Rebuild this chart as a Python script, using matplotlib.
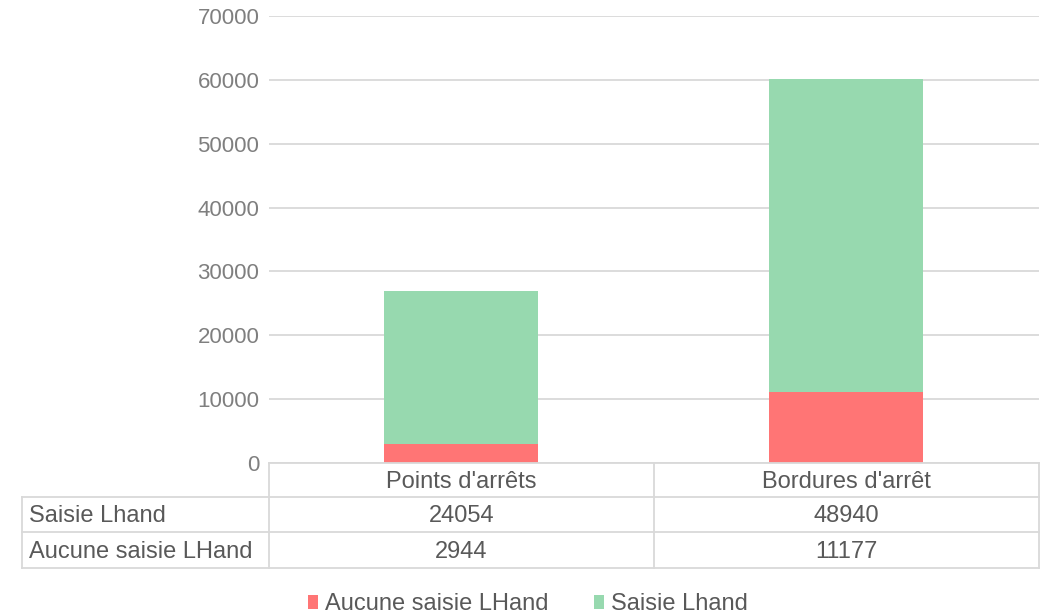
import matplotlib
matplotlib.use("Agg")
import matplotlib.pyplot as plt
from matplotlib.patches import Patch
from matplotlib.lines import Line2D

categories = ["Points d'arrêts", "Bordures d'arrêt"]
series_names = ["Aucune saisie LHand", "Saisie Lhand"]
aucune = [2944, 11177]
saisie = [24054, 48940]
table_rows = ["Saisie Lhand", "Aucune saisie LHand"]
yticks = [0, 10000, 20000, 30000, 40000, 50000, 60000, 70000]

RED = "#FF7575"
GREEN = "#97D9AF"
GRID = "#D9D9D9"
TXT = "#7F7F7F"
TXT2 = "#595959"
FS = 17

plt.rcParams['font.family'] = ['Liberation Sans', 'DejaVu Sans']

W, H = 1046, 616
fig = plt.figure(figsize=(W / 100, H / 100), dpi=100)

def fx(px):
    return px / W

def fy(py):
    return 1 - py / H

ax_l, ax_r, ax_t, ax_b = 269, 1039, 16, 463
ax = fig.add_axes([fx(ax_l), fy(ax_b), fx(ax_r) - fx(ax_l), fy(ax_t) - fy(ax_b)])

x = list(range(len(categories)))
ax.bar(x, aucune, width=0.4, color=RED, zorder=3)
ax.bar(x, saisie, width=0.4, bottom=aucune, color=GREEN, zorder=3)
ax.set_xlim(-0.5, len(categories) - 0.5)
ax.set_ylim(0, 70000)
ax.set_yticks(yticks)
ax.set_yticklabels([str(v) for v in yticks])
ax.tick_params(axis='y', length=0, pad=7, labelsize=16, labelcolor=TXT)
ax.set_xticks([])
for s in ax.spines.values():
    s.set_visible(False)
ax.grid(axis='y', color=GRID, linewidth=1.3, zorder=0)
ax.set_axisbelow(True)

# Data table
row_y = [463, 497, 532, 568]
col_x = [22, 269, 654, 1039]
lw = 1.3
def hline(x0, x1, y):
    fig.add_artist(Line2D([fx(x0), fx(x1)], [fy(y), fy(y)], color=GRID, lw=lw, transform=fig.transFigure))
def vline(x, y0, y1):
    fig.add_artist(Line2D([fx(x), fx(x)], [fy(y0), fy(y1)], color=GRID, lw=lw, transform=fig.transFigure))

hline(col_x[1], col_x[3], row_y[0])
for y in row_y[1:]:
    hline(col_x[0], col_x[3], y)
vline(col_x[0], row_y[1], row_y[3])
for xx in col_x[1:]:
    vline(xx, row_y[0], row_y[3])

DY = 2
for i, c in enumerate(categories):
    cx = (col_x[1 + i] + col_x[2 + i]) / 2
    fig.text(fx(cx), fy((row_y[0] + row_y[1]) / 2 + DY), c, ha='center', va='center',
             fontsize=FS, color=TXT2)
row_vals = [saisie, aucune]
for r, (name, vals) in enumerate(zip(table_rows, row_vals)):
    cy = (row_y[1 + r] + row_y[2 + r]) / 2 + DY
    fig.text(fx(col_x[0] + 7), fy(cy), name, ha='left', va='center', fontsize=FS, color=TXT2)
    for i, v in enumerate(vals):
        cx = (col_x[1 + i] + col_x[2 + i]) / 2
        fig.text(fx(cx), fy(cy), str(v), ha='center', va='center', fontsize=FS, color=TXT2)

handles = [Patch(facecolor=RED, edgecolor='none'), Patch(facecolor=GREEN, edgecolor='none')]
fig.legend(handles, series_names, loc='center', bbox_to_anchor=(fx(528), fy(604)),
           ncol=2, frameon=False, fontsize=FS, labelcolor=TXT2,
           handlelength=0.45, handleheight=0.55, handletextpad=0.3, columnspacing=1.9)

fig.savefig("out.png", dpi=100)
